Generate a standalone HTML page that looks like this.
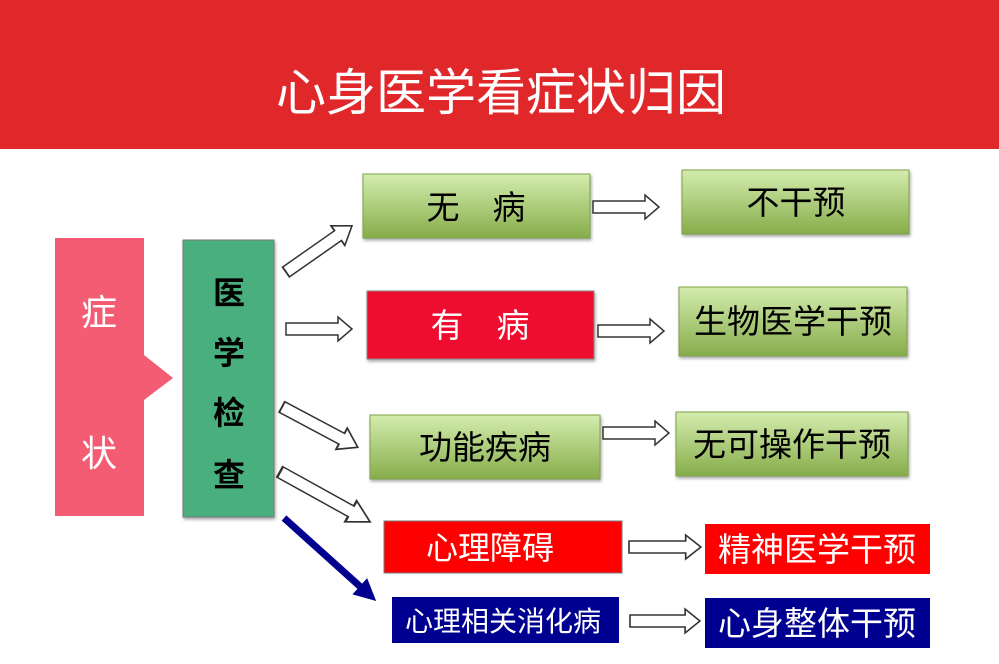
<!DOCTYPE html>
<html><head><meta charset="utf-8"><style>
html,body{margin:0;padding:0;background:#fff}
svg{display:block}
text{font-family:"Liberation Sans","Noto Sans CJK SC",sans-serif}
</style></head><body>
<svg width="999" height="664" viewBox="0 0 999 664" xmlns="http://www.w3.org/2000/svg">
<defs>
<linearGradient id="g" x1="0" y1="0" x2="0" y2="1">
<stop offset="0" stop-color="#d4ecae"/><stop offset="1" stop-color="#86ac4a"/>
</linearGradient>
<filter id="sh" x="-5%" y="-10%" width="110%" height="130%"><feDropShadow dx="1" dy="2" stdDeviation="1.5" flood-color="#000" flood-opacity="0.35"/></filter>
<polygon id="ha" points="0,-6 52,-6 52,-12 66,0 52,12 52,6 0,6" fill="#fff" stroke="#333" stroke-width="1.5"/>
</defs>
<rect x="0" y="0" width="999" height="149" fill="#e0272a"/>
<text x="501" y="110" font-size="50" fill="#fff" text-anchor="middle">心身医学看症状归因</text>

<polygon points="55,238 144,238 144,355 173,378 144,400 144,516 55,516" fill="#f45c74"/>
<text x="99" y="325" font-size="36" fill="#fff" text-anchor="middle">症</text>
<text x="99" y="466" font-size="36" fill="#fff" text-anchor="middle">状</text>

<rect x="183" y="240" width="91" height="277" fill="#4aaf7f" stroke="#7a7a7a" stroke-width="1" filter="url(#sh)"/>
<g font-size="32" fill="#000" text-anchor="middle" font-weight="bold">
<text x="229" y="304">医</text><text x="229" y="364">学</text><text x="229" y="424">检</text><text x="229" y="486">查</text>
</g>

<g filter="url(#sh)">
<rect x="363" y="174" width="227" height="64" fill="url(#g)" stroke="#7fa34a"/>
<rect x="682" y="170" width="227" height="64" fill="url(#g)" stroke="#7fa34a"/>
<rect x="367" y="291" width="227" height="68" fill="#ee0a2e" stroke="#888"/>
<rect x="679" y="287" width="228" height="69" fill="url(#g)" stroke="#7fa34a"/>
<rect x="370" y="415" width="230" height="64" fill="url(#g)" stroke="#7fa34a"/>
<rect x="676" y="412" width="232" height="64" fill="url(#g)" stroke="#7fa34a"/>
</g>
<rect x="384" y="521" width="238" height="52" fill="#ff0000" stroke="#777"/>
<rect x="705" y="524" width="225" height="50" fill="#ff0000"/>
<rect x="392" y="597" width="227" height="46" fill="#000090"/>
<rect x="705" y="598" width="225" height="50" fill="#000090"/>

<g font-size="33" text-anchor="middle">
<text x="476" y="219" fill="#000">无　病</text>
<text x="796" y="214" fill="#000">不干预</text>
<text x="480" y="337" fill="#fff">有　病</text>
<text x="793" y="333" fill="#000">生物医学干预</text>
<text x="485" y="459" fill="#000">功能疾病</text>
<text x="792" y="456" fill="#000">无可操作干预</text>
<text x="490" y="559" fill="#fff" font-size="32">心理障碍</text>
<text x="817" y="561" fill="#fff">精神医学干预</text>
<text x="503" y="631" fill="#fff" font-size="28">心理相关消化病</text>
<text x="817" y="635" fill="#fff">心身整体干预</text>
</g>

<use href="#ha" transform="translate(286,272) rotate(-35) scale(1.22,1)"/>
<use href="#ha" transform="translate(286,329) scale(1,1)"/>
<use href="#ha" transform="translate(282,407) rotate(28) scale(1.3,1)"/>
<use href="#ha" transform="translate(280,472) rotate(29) scale(1.56,1)"/>
<g transform="translate(284,518) rotate(42)">
<polygon points="0,-3.5 102,-3.5 102,-11 124,0 102,11 102,3.5 0,3.5" fill="#00008f"/>
</g>
<use href="#ha" transform="translate(593,207)"/>
<use href="#ha" transform="translate(598,331)"/>
<use href="#ha" transform="translate(603,433)"/>
<use href="#ha" transform="translate(629,547) scale(1.09,1)"/>
<use href="#ha" transform="translate(630,621) scale(1.06,1)"/>
</svg>
</body></html>
